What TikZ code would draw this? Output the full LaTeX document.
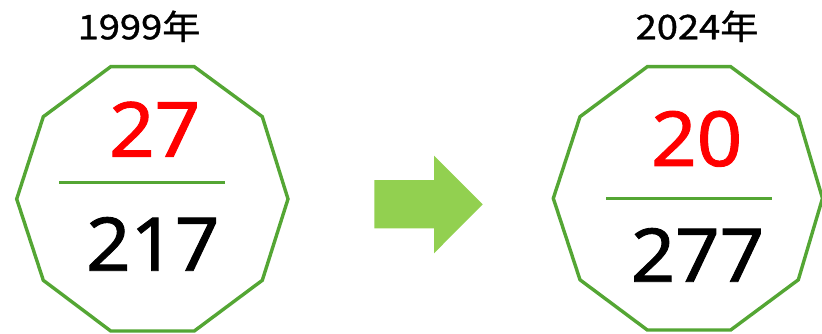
\documentclass[tikz,border=0pt]{standalone}
\usepackage{fontspec}
\setmainfont{Noto Sans CJK JP}
\newfontfamily\numfont[FakeBold=1.2]{Noto Sans}
\newfontfamily\titlefont[FakeBold=1.0]{Noto Sans CJK JP}
\definecolor{polyline}{RGB}{84,166,52}
\definecolor{arrowfill}{RGB}{146,208,80}
\definecolor{numred}{RGB}{255,0,0}
\begin{document}
\begin{tikzpicture}[x=1pt,y=-1pt,
  poly/.style={draw=polyline,line width=3.4pt,line join=miter},
  bar/.style={draw=polyline,line width=3.4pt},
  title/.style={anchor=base,inner sep=0pt,font=\titlefont\fontsize{34}{34}\selectfont},
  topnum/.style={anchor=base,inner sep=0pt,text=numred,font=\numfont\fontsize{76}{76}\selectfont},
  botnum/.style={anchor=base,inner sep=0pt,text=black,font=\numfont\fontsize{74}{74}\selectfont}]
\useasboundingbox (0,0) rectangle (822,334);
% left decagon
\draw[poly] (110.7,66.7) -- (194.3,66.7) -- (262.3,116.7) -- (288,199) -- (262.3,280.3)
  -- (194.3,331) -- (110.7,331) -- (43.3,280.3) -- (16.7,199) -- (43.3,116.7) -- cycle;
% right decagon
\draw[poly] (647.3,66.7) -- (730.7,66.7) -- (798.3,116.7) -- (822.5,198.3) -- (798.3,279.8)
  -- (730.7,330) -- (647.3,330) -- (580,279.8) -- (553.3,198.3) -- (580,116.7) -- cycle;
% fraction bars
\coordinate (l1) at (59.3,182.7); \coordinate (l2) at (225,182.7);
\coordinate (r1) at (606,198.3); \coordinate (r2) at (771.7,198.3);
\draw[bar] (l1) -- (l2);
\draw[bar] (r1) -- (r2);
% texts
\node[title] (t1) at (139,39.3) {\scalebox{1.12}[1]{1999年}};
\node[title] (t2) at (697,39.3) {\scalebox{1.12}[1]{2024年}};
\node[topnum] (a1) at (154.7,156.7) {\scalebox{1.05}[1]{27}};
\node[botnum] (b1) at (152.8,270.7) {\scalebox{1.05}[1]{217}};
\node[topnum] (a2) at (696.7,166) {\scalebox{1.05}[1]{20}};
\node[botnum] (b2) at (697.5,281.7) {\scalebox{1.05}[1]{277}};
% arrow
\fill[arrowfill] (374.3,180) -- (434,180) -- (434,155.7) -- (482.7,204.3) -- (434,253.3)
  -- (434,228.3) -- (374.3,228.3) -- cycle;
\end{tikzpicture}
\end{document}
